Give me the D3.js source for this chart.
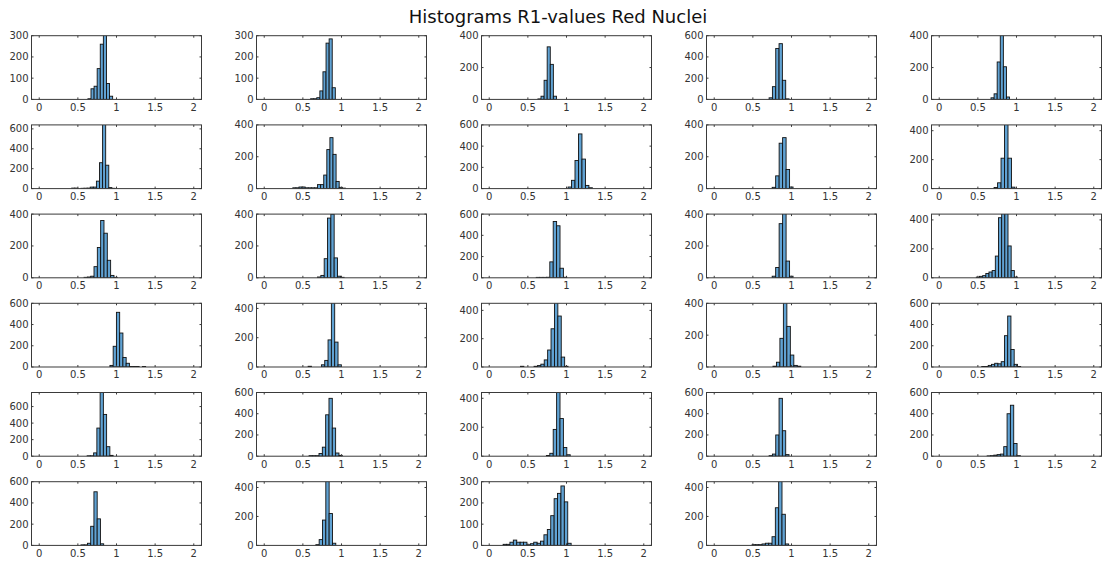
<!DOCTYPE html>
<html>
<head>
<meta charset="utf-8">
<script src="https://cdn.jsdelivr.net/npm/d3@7"></script>
<style>
  body { margin: 0; background: #fff; }
  text { font-family: "DejaVu Sans", sans-serif; }
</style>
</head>
<body>
<div id="chart"></div>
<script>
// One entry per panel, read row by row (5 columns, 29 panels)
const binStarts = [
  0.63, 0.60, 0.63, 0.71, 0.67,
  0.38, 0.37, 1.02, 0.75, 0.71,
  0.58, 0.69, 0.608, 0.75, 0.48,
  0.915, 0.568, 0.404, 0.76, 0.55,
  0.62, 0.58, 0.74, 0.71, 0.62,
  0.54, 0.668, 0.18, 0.49
];
const binWidths = [
  0.04, 0.04, 0.04, 0.043, 0.04,
  0.04, 0.04, 0.045, 0.045, 0.045,
  0.043, 0.043, 0.044, 0.045, 0.041,
  0.042, 0.043, 0.044, 0.045, 0.042,
  0.042, 0.043, 0.044, 0.043, 0.043,
  0.042, 0.043, 0.044, 0.043
];
const binCounts = [
  [3, 50, 62, 145, 260, 310, 75, 15],
  [3, 3, 8, 40, 130, 265, 285, 55],
  [3, 20, 120, 330, 220, 20],
  [15, 120, 480, 525, 180, 5],
  [10, 35, 235, 420, 205, 15],

  [0, 5, 5, 0, 3, 4, 5, 15, 15, 75, 260, 660, 235, 10, 3],
  [5, 5, 10, 10, 5, 5, 5, 5, 25, 25, 85, 245, 320, 215, 45, 8, 3],
  [15, 78, 265, 515, 278, 30, 8],
  [8, 80, 285, 320, 120, 10],
  [8, 40, 210, 450, 210, 10],

  [3, 5, 10, 70, 190, 360, 280, 110, 15, 3],
  [5, 15, 120, 375, 400, 125, 10, 3],
  [4, 4, 4, 5, 150, 530, 490, 90, 5],
  [10, 65, 340, 410, 105, 10],
  [5, 10, 15, 30, 40, 50, 150, 415, 450, 450, 220, 50, 5],

  [15, 195, 515, 320, 90, 35, 5, 5, 5, 0, 5],
  [5, 0, 0, 0, 15, 45, 185, 440, 170, 15],
  [5, 0, 0, 0, 5, 10, 20, 50, 120, 270, 460, 360, 70, 5],
  [5, 30, 180, 410, 255, 75, 10, 5],
  [5, 5, 15, 25, 35, 30, 50, 295, 480, 165, 25, 5],

  [5, 5, 40, 340, 780, 505, 115, 10],
  [5, 5, 5, 25, 85, 390, 545, 265, 30, 8],
  [5, 20, 185, 450, 260, 60, 10],
  [5, 20, 200, 545, 240, 15],
  [3, 5, 10, 15, 20, 90, 400, 480, 120, 5],

  [5, 5, 20, 180, 505, 250, 15],
  [5, 40, 175, 450, 220, 15],
  [5, 5, 15, 25, 15, 15, 15, 3, 8, 15, 10, 20, 50, 75, 140, 220, 245, 280, 205, 10],
  [5, 5, 5, 10, 15, 15, 60, 260, 450, 215, 10]
];
const yMaxes = [
  300, 300, 400, 600, 400,
  640, 400, 600, 400, 440,
  400, 400, 600, 400, 440,
  600, 435, 450, 400, 600,
  770, 600, 440, 600, 600,
  600, 440, 300, 440
];
const yTickSteps = [
  100, 100, 200, 200, 200,
  200, 200, 200, 200, 200,
  200, 200, 200, 200, 200,
  200, 200, 200, 200, 200,
  200, 200, 200, 200, 200,
  200, 200, 100, 200
];
const xTicks = [0, 0.5, 1, 1.5, 2];
const xDomain = [-0.1, 2.1];
const title = "Histograms R1-values Red Nuclei";

const W = 1104, H = 563;
const nCols = 5;
const panel = { left: 31.5, top: 35.7, width: 170, height: 63.7, dx: 225, dy: 89.2 };
const tickLen = 2;

const svg = d3.select("#chart").append("svg")
  .attr("width", W)
  .attr("height", H);

svg.append("text")
  .attr("x", 558)
  .attr("y", 23)
  .attr("text-anchor", "middle")
  .style("font-size", "18px")
  .style("fill", "#111")
  .text(title);

const x = d3.scaleLinear().domain(xDomain).range([0, panel.width]);

binCounts.forEach((counts, p) => {
  const col = p % nCols, row = Math.floor(p / nCols);
  const g = svg.append("g")
    .attr("transform", `translate(${panel.left + col * panel.dx},${panel.top + row * panel.dy})`);

  const y = d3.scaleLinear().domain([0, yMaxes[p]]).range([panel.height, 0]);
  const yTicks = d3.range(0, yMaxes[p] + 1, yTickSteps[p]);

  g.append("clipPath").attr("id", "clip" + p)
    .append("rect").attr("width", panel.width).attr("height", panel.height);

  const bins = counts.map((c, i) => ({
    x0: binStarts[p] + i * binWidths[p],
    x1: binStarts[p] + (i + 1) * binWidths[p],
    n: c
  })).filter(d => d.n > 0);

  g.append("g").attr("clip-path", `url(#clip${p})`)
    .selectAll("rect")
    .data(bins)
    .join("rect")
    .attr("x", d => x(d.x0))
    .attr("width", d => x(d.x1) - x(d.x0))
    .attr("y", d => y(d.n))
    .attr("height", d => y(0) - y(d.n))
    .attr("fill", "#60a2d3")
    .attr("stroke", "#111")
    .attr("stroke-width", 0.9);

  // box
  g.append("rect")
    .attr("width", panel.width)
    .attr("height", panel.height)
    .attr("fill", "none")
    .attr("stroke", "#3a3a3a")
    .attr("stroke-width", 1);

  // inward ticks on all sides
  const tk = g.append("g").attr("stroke", "#3a3a3a").attr("stroke-width", 1);
  xTicks.forEach(t => {
    tk.append("line").attr("x1", x(t)).attr("x2", x(t)).attr("y1", panel.height).attr("y2", panel.height - tickLen);
    tk.append("line").attr("x1", x(t)).attr("x2", x(t)).attr("y1", 0).attr("y2", tickLen);
  });
  yTicks.forEach(t => {
    tk.append("line").attr("x1", 0).attr("x2", tickLen).attr("y1", y(t)).attr("y2", y(t));
    tk.append("line").attr("x1", panel.width).attr("x2", panel.width - tickLen).attr("y1", y(t)).attr("y2", y(t));
  });

  g.selectAll(".xl").data(xTicks).join("text")
    .attr("class", "xl")
    .attr("x", d => x(d))
    .attr("y", panel.height + 11.5)
    .attr("text-anchor", "middle")
    .style("font-size", "10px")
    .style("fill", "#333")
    .text(d => d);

  g.selectAll(".yl").data(yTicks).join("text")
    .attr("class", "yl")
    .attr("x", -3)
    .attr("y", d => y(d))
    .attr("dy", "0.35em")
    .attr("text-anchor", "end")
    .style("font-size", "10px")
    .style("fill", "#333")
    .text(d => d);
});
</script>
</body>
</html>
